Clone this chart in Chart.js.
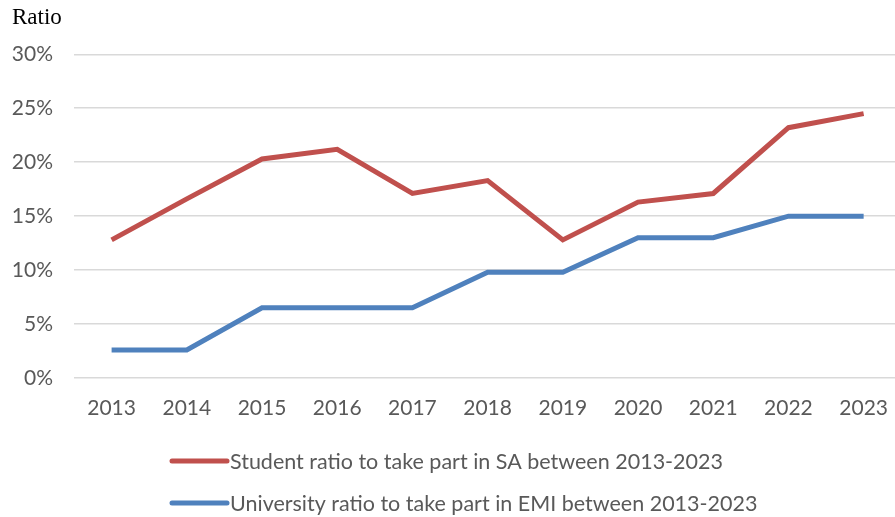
<!DOCTYPE html>
<html>
<head>
<meta charset="utf-8">
<script src="https://cdn.jsdelivr.net/npm/chart.js@4.4.1/dist/chart.umd.min.js"></script>
<style>
  html, body { margin: 0; padding: 0; background: #fff; overflow: hidden; }
  #wrap { width: 906px; height: 517px; }
</style>
</head>
<body>
<div id="wrap"><canvas id="ratioChart" width="906" height="517"></canvas></div>
<script>
const years = ["2013", "2014", "2015", "2016", "2017", "2018", "2019", "2020", "2021", "2022", "2023"];
const studentSA = [12.8, 16.6, 20.3, 21.2, 17.1, 18.3, 12.8, 16.3, 17.1, 23.2, 24.5];
const universityEMI = [2.6, 2.6, 6.5, 6.5, 6.5, 9.8, 9.8, 13.0, 13.0, 15.0, 15.0];
const seriesNames = [
  "Student ratio to take part in SA between 2013-2023",
  "University ratio to take part in EMI between 2013-2023",
];

const textGrey = "#595959";
const uiFont = "Lato, 'Open Sans', sans-serif";

// legend drawn as two left-aligned rows under the axis
const rowLegend = {
  id: "rowLegend",
  afterDraw(chart) {
    const ctx = chart.ctx;
    const rows = [461, 503];
    ctx.save();
    chart.data.datasets.forEach((ds, i) => {
      const y = rows[i];
      ctx.strokeStyle = ds.borderColor;
      ctx.lineWidth = 5;
      ctx.lineCap = "round";
      ctx.beginPath();
      ctx.moveTo(172, y);
      ctx.lineTo(227, y);
      ctx.stroke();
      ctx.fillStyle = textGrey;
      ctx.font = "21.5px " + uiFont;
      ctx.textBaseline = "middle";
      ctx.textAlign = "left";
      ctx.fillText(ds.label, 230, y + 1);
    });
    ctx.restore();
  },
};

new Chart(document.getElementById("ratioChart"), {
  type: "line",
  data: {
    labels: years,
    datasets: [
      {
        label: seriesNames[0],
        data: studentSA,
        borderColor: "#C0504D",
        backgroundColor: "#C0504D",
        borderWidth: 5,
        pointRadius: 0,
        tension: 0,
      },
      {
        label: seriesNames[1],
        data: universityEMI,
        borderColor: "#4F81BD",
        backgroundColor: "#4F81BD",
        borderWidth: 5,
        pointRadius: 0,
        tension: 0,
      },
    ],
  },
  options: {
    responsive: false,
    animation: false,
    layout: { padding: { left: 12, right: 0, top: 0, bottom: 0 } },
    plugins: {
      legend: { display: false },
      tooltip: { enabled: false },
      title: {
        display: true,
        text: "Ratio",
        align: "start",
        color: "#000",
        font: { family: "'Liberation Serif', serif", size: 23, weight: "normal", lineHeight: 1.1 },
        padding: { top: 5, bottom: 24 },
      },
    },
    scales: {
      x: {
        offset: true,
        grid: { display: false, drawTicks: false },
        border: { display: false },
        ticks: {
          color: textGrey,
          font: { family: uiFont, size: 21 },
          padding: 18,
          maxRotation: 0,
        },
        afterFit(axis) {
          axis.height = 139;
        },
      },
      y: {
        min: 0,
        max: 30,
        grid: { color: "#D9D9D9", lineWidth: 1.5, drawTicks: false },
        border: { display: false },
        ticks: {
          stepSize: 5,
          color: textGrey,
          font: { family: uiFont, size: 21 },
          padding: 21,
          callback: (v) => v + "%",
        },
        afterFit(axis) {
          axis.width = 62;
        },
      },
    },
  },
  plugins: [rowLegend],
});
</script>
</body>
</html>
